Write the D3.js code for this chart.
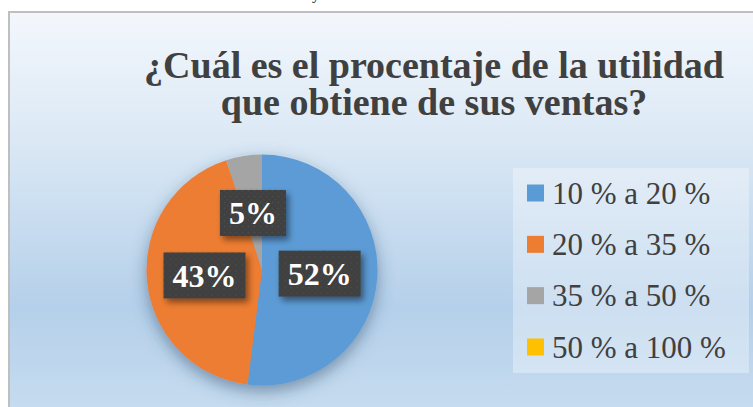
<!DOCTYPE html>
<html><head><meta charset="utf-8">
<script src="https://cdn.jsdelivr.net/npm/d3@7"></script>
<style>html,body{margin:0;padding:0;background:#fff;overflow:hidden}
svg text{font-family:"Liberation Serif","Times New Roman",Times,serif}</style>
</head><body>
<svg id="c" width="753" height="407"></svg>
<script>
const categories = ["10 % a 20 %", "20 % a 35 %", "35 % a 50 %", "50 % a 100 %"];
const values = [52, 43, 5, 0];
const labels = ["52%", "43%", "5%", ""];
const colors = ["#5b9bd5", "#ed7d31", "#a5a5a5", "#ffc000"];
const titleLines = ["¿Cuál es el procentaje de la utilidad", "que obtiene de sus ventas?"];

const svg = d3.select("#c");
const defs = svg.append("defs");
const g = defs.append("linearGradient").attr("id","bg").attr("x1",0).attr("y1",0).attr("x2",0).attr("y2",1);
[[0,"#f3f7fc"],[0.3,"#dce9f5"],[0.72,"#b5d0ea"],[1,"#c8ddf0"]].forEach(([o,c])=>g.append("stop").attr("offset",o).attr("stop-color",c));
const sh = defs.append("filter").attr("id","sh").attr("x","-30%").attr("y","-30%").attr("width","160%").attr("height","160%");
sh.append("feDropShadow").attr("dx",0).attr("dy",6).attr("stdDeviation",8).attr("flood-color","#2a4a6a").attr("flood-opacity",0.5);
const sh2 = defs.append("filter").attr("id","sh2").attr("x","-30%").attr("y","-30%").attr("width","160%").attr("height","160%");
sh2.append("feDropShadow").attr("dx",3).attr("dy",4).attr("stdDeviation",3).attr("flood-color","#000").attr("flood-opacity",0.45);
const pat = defs.append("pattern").attr("id","tex").attr("width",6).attr("height",6).attr("patternUnits","userSpaceOnUse");
pat.append("rect").attr("width",6).attr("height",6).attr("fill","#3f3f3f");
pat.append("circle").attr("cx",1.5).attr("cy",1.5).attr("r",1).attr("fill","#4a4a4a");
pat.append("circle").attr("cx",4.5).attr("cy",4.5).attr("r",1).attr("fill","#464646");

// fragment of document text above the chart (only its descender shows)
svg.append("text").attr("x",312).attr("y",-1).attr("font-size",16).attr("fill","#222").text("y");

// chart area
svg.append("rect").attr("x",9).attr("y",12).attr("width",760).attr("height",410)
  .attr("fill","url(#bg)").attr("stroke","#bfbfbf").attr("stroke-width",2);

// title
svg.append("text").attr("x",434).attr("y",78).attr("text-anchor","middle")
  .attr("font-weight","bold").attr("font-size",38).attr("fill","#404040")
  .selectAll("tspan").data(titleLines).join("tspan")
  .attr("x",434).attr("dy",(d,i)=>i===0?0:37).text(d=>d);

// pie
const cx = 262, cy = 270, R = 115.5;
const pie = d3.pie().sort(null).value(d=>d.v);
const data = pie(values.map((v,i)=>({v, i})));
const arc = d3.arc().innerRadius(0).outerRadius(R);
const pg = svg.append("g").attr("transform",`translate(${cx},${cy})`);
pg.append("g").attr("filter","url(#sh)").selectAll("path").data(data.filter(d=>d.data.v>0)).join("path")
  .attr("d",arc).attr("fill",d=>colors[d.data.i]);

// labels
const lg = pg.selectAll("g.lab").data(data.filter(d=>d.data.v>0)).join("g").attr("class","lab")
  .attr("transform",d=>`translate(${arc.centroid(d)})`);
lg.each(function(d){
  const gg = d3.select(this);
  const r = gg.append("rect").attr("fill","url(#tex)").attr("filter","url(#sh2)");
  const t = gg.append("text").attr("text-anchor","middle").attr("dy","0.35em")
    .attr("font-weight","bold").attr("font-size",32).attr("fill","#fff")
    .text(labels[d.data.i]);
  const w = t.node().getComputedTextLength() + 18, h = 46;
  r.attr("x",-w/2).attr("y",-h/2).attr("width",w).attr("height",h);
});

// legend
const L = svg.append("g");
L.append("rect").attr("x",513).attr("y",168).attr("width",236).attr("height",205).attr("fill","#ffffff").attr("fill-opacity",0.32);
const yl = d3.scalePoint().domain(categories).range([193,347]);
const items = L.selectAll("g.it").data(categories).join("g").attr("class","it")
  .attr("transform",d=>`translate(0,${yl(d)})`);
items.append("rect").attr("x",527).attr("y",-8.5).attr("width",17).attr("height",17).attr("fill",(d,i)=>colors[i]);
items.append("text").attr("x",552).attr("dy","0.34em").attr("font-size",31)
  .attr("fill","#404040").text(d=>d);
</script>
</body></html>
